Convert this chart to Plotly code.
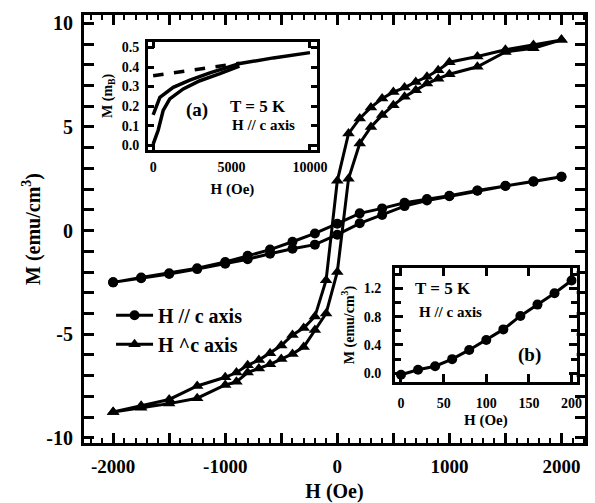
import plotly.graph_objects as go

# ---------------- main panel data ----------------
# H // c axis (circles): descending branch then ascending branch
H_par_down = [2000, 1750, 1500, 1250, 1000, 800, 600, 400, 200, 0, -200, -400, -600, -800, -1000, -1250, -1500, -1750, -2000]
M_par_down = [2.60, 2.38, 2.16, 1.93, 1.68, 1.52, 1.34, 1.07, 0.83, 0.33, -0.14, -0.54, -0.92, -1.22, -1.52, -1.82, -2.06, -2.27, -2.50]
H_par_up = [-2000, -1750, -1500, -1250, -1000, -800, -600, -400, -200, 0, 200, 400, 600, 800, 1000, 1250, 1500, 1750, 2000]
M_par_up = [-2.50, -2.30, -2.10, -1.86, -1.60, -1.38, -1.12, -0.88, -0.68, -0.20, 0.35, 0.75, 1.18, 1.45, 1.66, 1.92, 2.15, 2.36, 2.60]

# H ^ c axis (triangles)
H_perp_down = [2000, 1750, 1500, 1250, 1000, 900, 800, 700, 600, 500, 400, 300, 200, 100, 0,
               -100, -200, -300, -400, -500, -600, -700, -800, -900, -1000, -1250, -1500, -1750, -2000]
M_perp_down = [9.20, 8.95, 8.72, 8.40, 8.12, 7.73, 7.42, 7.17, 6.90, 6.68, 6.37, 5.94, 5.41, 4.68, 2.40,
               -2.40, -4.15, -4.70, -5.04, -5.55, -5.92, -6.25, -6.50, -6.85, -7.08, -7.50, -8.15, -8.45, -8.75]
H_perp_up = [-2000, -1750, -1500, -1250, -1000, -900, -800, -700, -600, -500, -400, -300, -200, -100, 0,
             100, 200, 300, 400, 500, 600, 700, 800, 900, 1000, 1250, 1500, 1750, 2000]
M_perp_up = [-8.75, -8.55, -8.35, -8.09, -7.45, -7.30, -6.85, -6.65, -6.45, -6.20, -5.95, -5.62, -4.80, -4.00, -2.00,
             2.50, 4.20, 5.00, 5.57, 6.05, 6.45, 6.77, 7.09, 7.33, 7.54, 7.90, 8.62, 8.80, 9.20]

x_tickvals = [-2000, -1000, 0, 1000, 2000]
x_ticktext = ["-2000", "-1000", "0", "1000", "2000"]
x_half_ticks = [-1500, -500, 500, 1500]
x_minor_ticks = list(range(-2200, 2201, 100))
y_tickvals = [-10, -5, 0, 5, 10]
y_ticktext = ["-10", "-5", "0", "5", "10"]
y_minor_ticks = list(range(-10, 11, 1))

# ---------------- inset (a) data ----------------
H_a_upper = [0, 430, 1280, 2340, 3620, 5530, 7660, 10000]
M_a_upper = [0.155, 0.245, 0.296, 0.333, 0.370, 0.418, 0.447, 0.474]
H_a_lower = [0, 320, 640, 1060, 1920, 2980, 4260, 5500]
M_a_lower = [0.005, 0.076, 0.178, 0.237, 0.288, 0.330, 0.366, 0.405]
H_a_dash = [0, 5500]
M_a_dash = [0.355, 0.420]
a_x_tickvals = [0, 5000, 10000]
a_x_ticktext = ["0", "5000", "10000"]
a_x_marks = [0, 10000]
a_y_tickvals = [0.0, 0.1, 0.2, 0.3, 0.4, 0.5]
a_y_ticktext = ["0.0", "0.1", "0.2", "0.3", "0.4", "0.5"]

# ---------------- inset (b) data ----------------
H_b = [0, 20, 40, 60, 80, 100, 120, 140, 160, 180, 200]
M_b = [-0.02, 0.05, 0.10, 0.20, 0.33, 0.47, 0.62, 0.81, 0.97, 1.13, 1.31]
b_x_tickvals = [0, 50, 100, 150, 200]
b_y_tickvals = [0.0, 0.4, 0.8, 1.2]
b_y_ticktext = ["0.0", "0.4", "0.8", "1.2"]
b_y_minor = [0.0, 0.2, 0.4, 0.6, 0.8, 1.0, 1.2, 1.4]

FONT = "Liberation Serif"
BLACK = "black"

fig = go.Figure()
fig.add_trace(go.Scatter(
    x=H_par_down + H_par_up, y=M_par_down + M_par_up, mode="lines+markers",
    name="H // c axis", line=dict(color=BLACK, width=3),
    marker=dict(symbol="circle", size=10, color=BLACK)))
fig.add_trace(go.Scatter(
    x=H_perp_down + H_perp_up, y=M_perp_down + M_perp_up, mode="lines+markers",
    name="H ^c axis", line=dict(color=BLACK, width=3),
    marker=dict(symbol="triangle-up", size=11, color=BLACK)))
# empty trace that carries the overlay axis for the 500-Oe ticks
fig.add_trace(go.Scatter(x=[], y=[], xaxis="x4", yaxis="y", showlegend=False, hoverinfo="skip"))

# inset a
fig.add_trace(go.Scatter(x=H_a_upper, y=M_a_upper, mode="lines", xaxis="x2", yaxis="y2",
                         line=dict(color=BLACK, width=3.5), showlegend=False))
fig.add_trace(go.Scatter(x=H_a_lower, y=M_a_lower, mode="lines", xaxis="x2", yaxis="y2",
                         line=dict(color=BLACK, width=3.5), showlegend=False))
fig.add_trace(go.Scatter(x=H_a_dash, y=M_a_dash, mode="lines", xaxis="x2", yaxis="y2",
                         line=dict(color=BLACK, width=3.5, dash="dash"), showlegend=False))
# inset b
fig.add_trace(go.Scatter(x=H_b, y=M_b, mode="lines+markers", xaxis="x3", yaxis="y3",
                         line=dict(color=BLACK, width=3), marker=dict(symbol="circle", size=10, color=BLACK),
                         showlegend=False))


def tf(size):
    return dict(family=FONT, size=size, color=BLACK, weight="bold")


common = dict(showline=True, linecolor=BLACK, mirror="allticks", ticks="inside",
              tickcolor=BLACK, showgrid=False, zeroline=False, automargin=False)

fig.update_layout(
    width=595, height=503,
    margin=dict(l=84, r=10, t=15, b=60),
    paper_bgcolor="white", plot_bgcolor="white",
    font=dict(family=FONT, color=BLACK),
    showlegend=True,
    legend=dict(x=0.054, y=0.344, xanchor="left", yanchor="top", bgcolor="rgba(0,0,0,0)",
                font=tf(20), tracegroupgap=0, itemwidth=37),
    xaxis=dict(domain=[0, 1], anchor="y", range=[-2260, 2210], linewidth=3,
               tickmode="array", tickvals=x_tickvals, ticktext=x_ticktext, ticklen=10, tickwidth=2.5,
               minor=dict(tickmode="array", tickvals=x_minor_ticks, ticklen=5, tickwidth=2,
                          ticks="inside", tickcolor=BLACK),
               tickfont=tf(19), ticklabelstandoff=4,
               title=dict(text="H (Oe)", font=tf(20), standoff=12), **common),
    xaxis4=dict(overlaying="x", anchor="y", side="bottom", range=[-2260, 2210], linewidth=3,
                tickmode="array", tickvals=x_half_ticks, ticklen=10, tickwidth=2.5,
                showticklabels=False, **common),
    yaxis=dict(domain=[0, 1], anchor="x", range=[-10.25, 10.4], linewidth=3,
               tickmode="array", tickvals=y_tickvals, ticktext=y_ticktext, ticklen=10, tickwidth=2.5,
               minor=dict(tickmode="array", tickvals=y_minor_ticks, ticklen=6, tickwidth=2.5,
                          ticks="inside", tickcolor=BLACK),
               tickfont=tf(20), ticklabelstandoff=4,
               title=dict(text="M (emu/cm<sup>3</sup>)", font=tf(20), standoff=1), **common),
    xaxis2=dict(domain=[0.128, 0.4645], anchor="y2", range=[-320, 10430], linewidth=3,
                tickmode="array", tickvals=a_x_tickvals, ticktext=a_x_ticktext, ticklen=0, tickwidth=0,
                minor=dict(tickmode="array", tickvals=a_x_marks, ticklen=6, tickwidth=2.5,
                           ticks="inside", tickcolor=BLACK),
                tickfont=tf(14), ticklabelstandoff=2,
                title=dict(text="H (Oe)", font=tf(15), standoff=10),
                showline=True, linecolor=BLACK, mirror="allticks", ticks="", showgrid=False,
                zeroline=False, automargin=False),
    yaxis2=dict(domain=[0.6846, 0.9376], anchor="x2", range=[-0.025, 0.53], linewidth=3,
                tickmode="array", tickvals=a_y_tickvals, ticktext=a_y_ticktext, ticklen=6, tickwidth=2.5,
                tickfont=tf(14), ticklabelstandoff=3,
                title=dict(text="M (m<sub>B</sub>)", font=tf(14), standoff=6), **common),
    xaxis3=dict(domain=[0.6208, 0.9834], anchor="y3", range=[-7, 206], linewidth=3,
                tickmode="array", tickvals=b_x_tickvals, ticklen=8, tickwidth=2.5,
                tickfont=tf(14), ticklabelstandoff=6,
                title=dict(text="H (Oe)", font=tf(15), standoff=5), **common),
    yaxis3=dict(domain=[0.1432, 0.4082], anchor="x3", range=[-0.119, 1.483], linewidth=3,
                tickmode="array", tickvals=b_y_tickvals, ticktext=b_y_ticktext, ticklen=8, tickwidth=2.5,
                minor=dict(tickmode="array", tickvals=b_y_minor, ticklen=6, tickwidth=2.5,
                           ticks="inside", tickcolor=BLACK),
                tickfont=tf(14), ticklabelstandoff=8,
                title=dict(text="M (emu/cm<sup>3</sup>)", font=tf(14), standoff=6), **common),
)

annotations = [
    dict(text="(a)", x=0.287, y=0.369, xref="x2 domain", yref="y2 domain", font=tf(19)),
    dict(text="T = 5 K", x=0.653, y=0.40, xref="x2 domain", yref="y2 domain", font=tf(17)),
    dict(text="H // c axis", x=0.683, y=0.231, xref="x2 domain", yref="y2 domain", font=tf(15)),
    dict(text="T = 5 K", x=0.266, y=0.824, xref="x3 domain", yref="y3 domain", font=tf(17)),
    dict(text="H // c axis", x=0.303, y=0.617, xref="x3 domain", yref="y3 domain", font=tf(15)),
    dict(text="(b)", x=0.743, y=0.235, xref="x3 domain", yref="y3 domain", font=tf(19)),
]
for a in annotations:
    a.update(showarrow=False, xanchor="center", yanchor="middle")
fig.update_layout(annotations=annotations)

fig.write_html("out.html")
